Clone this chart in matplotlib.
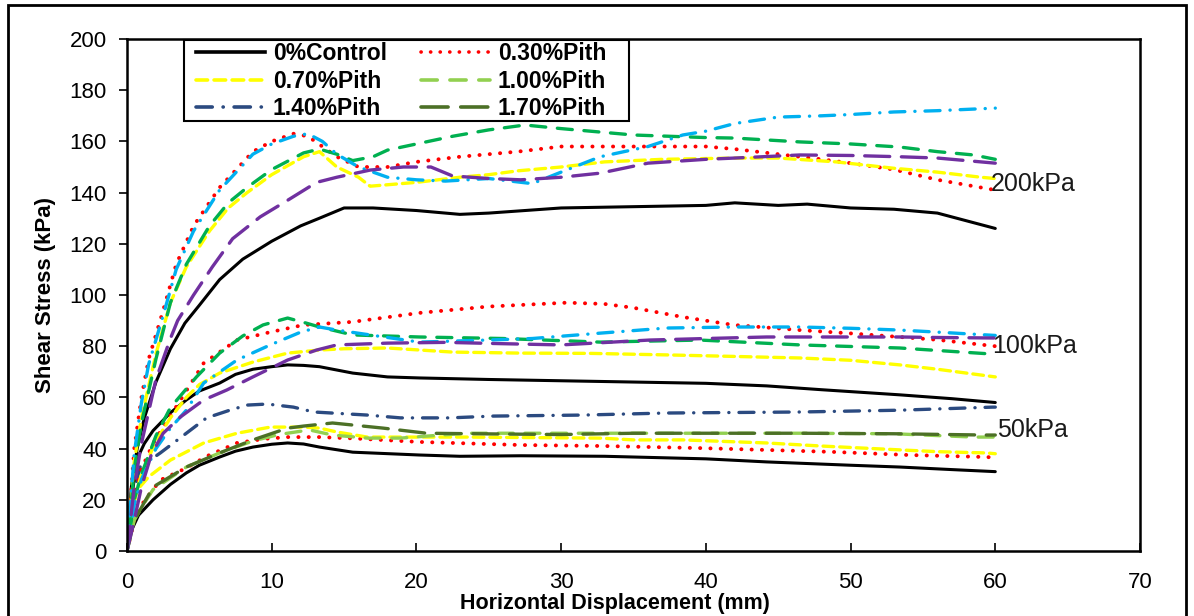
import matplotlib
matplotlib.use("Agg")
import matplotlib.pyplot as plt
from matplotlib.lines import Line2D
from matplotlib.patches import Rectangle

plt.rcParams['font.family'] = ['Liberation Sans', 'DejaVu Sans']

# ---------------- 200 kPa normal stress ----------------
x_ctrl_200 = [0, 0.3, 0.7, 1.2, 2, 3, 4, 5, 6.4, 8, 10, 12, 13.3, 15, 17, 20, 23, 25, 30, 35, 40, 42, 45, 47, 50, 53, 56, 58, 60]
y_ctrl_200 = [0, 25, 40, 52, 66, 79, 89, 96, 106, 114, 121, 127, 130, 134, 134, 133, 131.5, 132, 134, 134.5, 135, 136, 135, 135.5, 134, 133.5, 132, 129, 126]

x_p030_200 = [0, 0.5, 1, 1.5, 2.5, 3.4, 4.6, 6.4, 8.7, 10, 11.5, 12.5, 13.5, 14.5, 16, 18, 20, 23, 27, 30, 35, 40, 42, 45, 48, 50, 53, 56, 58, 60]
y_p030_200 = [0, 40, 60, 75, 94, 112, 127, 142, 156, 160, 163, 162, 158, 154, 150, 150, 152, 154, 156, 158, 158, 158, 157, 155, 153, 151.5, 149, 145, 143, 141]

x_p070_200 = [0, 0.5, 1, 2, 3, 4.1, 5.7, 7, 8.3, 10, 12.2, 13.3, 14.5, 16, 16.8, 20, 23, 25, 27, 30, 33, 37, 42, 45, 49, 53, 56, 59, 60]
y_p070_200 = [0, 35, 52, 77, 97, 111, 125, 134, 140, 147, 154, 156, 150, 146, 142.5, 144, 146, 147, 148.5, 150, 152, 153, 153.5, 153.5, 152, 149.5, 148, 146, 145.5]

x_p100_200 = [0, 0.5, 1, 2, 3, 4.1, 5.7, 7, 8.3, 10, 12.2, 13.3, 14.5, 15.6, 17, 18, 20, 22.5, 25, 27.5, 30, 35, 40, 42, 46.5, 50, 53.4, 56, 58.5, 60]
y_p100_200 = [0, 32, 50, 75, 97, 112, 127, 136, 142, 149, 155.5, 157, 155, 152.5, 154, 156.6, 159, 162, 164.5, 166.4, 165, 162.5, 161.5, 161.3, 159.8, 159, 157.8, 156, 154.7, 153]

x_p140_200 = [0, 0.5, 1, 1.5, 2.5, 3.4, 4.6, 6.4, 8.7, 10, 11.5, 12.5, 13.5, 14.5, 16, 18, 20, 22, 25, 28, 30, 32.7, 36, 38.4, 40, 42, 45, 48, 50, 53, 56, 60]
y_p140_200 = [0, 38, 58, 73, 92, 110, 125, 141, 155, 159, 162, 163, 160, 155, 150, 146, 145, 144.5, 145.5, 143.5, 148, 154, 158, 162.5, 164, 167, 169.5, 170, 170.5, 171.5, 172, 173]

x_p170_200 = [0, 0.5, 1, 2, 3, 3.5, 4.6, 5.9, 7.3, 9.2, 11.1, 13.1, 14.5, 16.8, 19.1, 21, 22.5, 25, 27.2, 30, 32.7, 36, 40, 42, 46.5, 50, 53.4, 56, 59, 60]
y_p170_200 = [0, 25, 42, 67, 83, 90, 100, 111, 122, 130.5, 137, 144, 146, 148.8, 150, 150, 146.5, 145.5, 145, 146, 147.6, 151.5, 153, 153.5, 154.7, 154.5, 154, 153.5, 152, 151.5]

# ---------------- 100 kPa normal stress ----------------
x_ctrl_100 = [0, 0.3, 0.7, 1.2, 1.8, 3, 4.1, 5, 6.4, 7.5, 8.7, 10, 11.1, 12.2, 13.3, 15.6, 18, 20.2, 25, 30, 35, 40, 44.2, 48, 53.4, 57, 60]
y_ctrl_100 = [0, 20, 36, 42, 47, 54, 59, 62.5, 65.6, 69, 71, 72, 72.7, 72.5, 72, 69.5, 68, 67.6, 67, 66.5, 66, 65.5, 64.5, 63, 61, 59.5, 58]

x_p030_100 = [0, 0.5, 1, 1.8, 2.5, 3.7, 5.3, 7.6, 9.9, 12.2, 15.6, 20.2, 25, 30.4, 33, 35, 38.4, 41.9, 46.5, 50, 53.4, 56, 59.2, 60]
y_p030_100 = [0, 22, 32, 42, 48.4, 59, 73.4, 82.4, 85.5, 88.3, 89.5, 93, 95.5, 97, 96.5, 95, 91.4, 88.3, 86.3, 85, 83.6, 82.5, 80.5, 80]

x_p070_100 = [0, 0.5, 1, 2, 3, 4.1, 5, 6.4, 8.7, 11.1, 13.3, 15, 18, 22.5, 27.2, 32, 37.3, 42, 46.5, 50, 53.4, 56, 60]
y_p070_100 = [0, 20, 30, 43, 52, 60, 65, 69.5, 73.8, 77.3, 78.5, 79, 79.3, 77.7, 77.3, 77.2, 76.6, 76, 75.4, 74.5, 72.7, 71, 68]

x_p100_100 = [0, 0.5, 1, 2, 3, 4.8, 6.4, 8, 9.4, 11.1, 12.4, 13.3, 15.6, 20.2, 26, 32.7, 39.6, 46.5, 53.4, 59.6, 60]
y_p100_100 = [0, 20, 30, 45, 56, 68, 77.3, 84, 88.3, 91, 89, 87.5, 84.4, 83.6, 83, 81.6, 82.4, 80.5, 79.3, 77, 77]

x_p140_100 = [0, 0.5, 1, 2, 3, 4.1, 5.3, 7.6, 9.9, 12, 13.3, 14.5, 16.8, 20.2, 24.9, 28, 32.7, 37.3, 42, 46.5, 50, 53.4, 56, 60]
y_p140_100 = [0, 18, 28, 40, 48, 55, 65.6, 74.6, 80.5, 85.5, 87.5, 86.3, 84.4, 81.6, 82.4, 83, 85.1, 87.1, 87.5, 87.5, 87, 86.3, 85.5, 84.2]

x_p170_100 = [0, 0.5, 1, 1.7, 2.5, 3.7, 5.3, 6.9, 8.7, 11.1, 13.1, 14.5, 18, 22, 25.8, 30, 36.1, 40, 44.2, 50, 53.4, 56, 60]
y_p170_100 = [0, 12, 25, 38, 46, 52.4, 59, 62.9, 68, 74.6, 78.5, 80.5, 81.2, 81.5, 81, 80.5, 82.4, 83, 83.6, 83.6, 83.6, 83.4, 83.2]

# ---------------- 50 kPa normal stress ----------------
x_ctrl_50 = [0, 0.3, 0.8, 1.8, 3, 4.1, 5, 6.4, 7.5, 8.7, 10, 11.1, 12.2, 13.3, 15.6, 20.2, 23, 27.2, 33, 40, 44.2, 50, 53.4, 57, 60]
y_ctrl_50 = [0, 8, 14, 20, 26, 30.5, 33.5, 36.7, 39, 40.6, 41.7, 42.2, 41.8, 40.6, 38.6, 37.5, 37, 37.2, 37, 36, 34.8, 33.5, 32.8, 31.8, 31]

x_p030_50 = [0, 0.5, 1, 2.3, 4.1, 5.5, 7.6, 9.5, 11.1, 13.3, 15.6, 20.2, 27.2, 33, 39.6, 44, 48.8, 54, 59.4, 60]
y_p030_50 = [0, 12, 18, 27.7, 32.4, 37, 42.2, 43.8, 44.5, 44.5, 44, 42.6, 41.4, 41, 40.2, 39.5, 38.7, 37.5, 36.7, 36.5]

x_p070_50 = [0, 0.3, 0.7, 1.5, 3, 5.3, 7.6, 9.9, 12.2, 13.3, 14.5, 16.6, 20, 23.5, 28, 32.7, 35, 38.4, 44.2, 48, 53.4, 56, 59.4, 60]
y_p070_50 = [0, 14, 23.8, 29, 35.5, 42.2, 46, 48.4, 48.4, 48, 46.5, 44.5, 44.5, 44.5, 44.3, 44.1, 43.4, 43.4, 42.2, 41, 39.5, 38.8, 38.3, 38]

x_p100_50 = [0, 0.5, 1, 1.8, 4.1, 6.4, 8.7, 10.5, 12.6, 14.2, 16.6, 18.9, 21, 23.5, 28, 32.7, 40, 46.5, 53, 58.5, 60]
y_p100_50 = [0, 12, 17, 24, 32.8, 38.3, 43, 45.5, 47.3, 45.3, 44.1, 44.1, 45, 46, 46, 46, 46, 46, 45.8, 44.5, 44.5]

x_p140_50 = [0, 0.3, 0.9, 2.3, 4.1, 5.5, 7.1, 8.3, 9.7, 11.5, 12.9, 16.6, 18.9, 22.3, 25.3, 31.5, 37.3, 46.5, 53.4, 59.8, 60]
y_p140_50 = [0, 18, 32.8, 38.3, 46, 52, 55, 57, 57.4, 56.2, 54.3, 53.1, 52, 52, 52.7, 53.1, 53.9, 54.3, 55, 56.2, 56.2]

x_p170_50 = [0, 0.5, 1, 1.8, 4.1, 6.4, 8.7, 11.1, 12.2, 14.2, 17.7, 20.7, 25.8, 30, 35, 39, 46.5, 53, 59.2, 60]
y_p170_50 = [0, 12, 17, 25, 32.8, 38.3, 43.4, 48, 48.8, 50, 48, 46, 45.7, 45.5, 46, 46, 46, 45.8, 45.3, 45.3]

series_labels = ['0%Control', '0.30%Pith', '0.70%Pith', '1.00%Pith', '1.40%Pith', '1.70%Pith']
x_ticks = [0, 10, 20, 30, 40, 50, 60, 70]
y_ticks = [0, 20, 40, 60, 80, 100, 120, 140, 160, 180, 200]
stress_labels = ['200kPa', '100kPa', '50kPa']
stress_label_x = [59.7, 59.8, 60.1]
stress_label_y = [143.5, 80, 47.3]

# line styles
DOT = (0, (0.05, 2.6))
SHORT = (0, (3.2, 1.8))
MED = (0, (4.5, 3.5))
DASHDOT = (0, (4.5, 3.0, 0.05, 3.0))
LONG = (0, (7.5, 3.5))

W, H = 1194, 616
fig = plt.figure(figsize=(W / 100, H / 100), dpi=100)
ax = fig.add_axes([127 / W, 1 - 551 / H, (1140 - 127) / W, (551 - 39) / H])

lw = 2.4

def draw(x, y, color, ls, width=lw):
    ax.plot(x, y, color=color, linestyle=ls, linewidth=width,
            dash_capstyle='round', solid_capstyle='round')

# 50 kPa (legend colours)
draw(x_ctrl_50, y_ctrl_50, 'black', '-', 2.2)
draw(x_p030_50, y_p030_50, '#FF0000', DOT, 2.8)
draw(x_p070_50, y_p070_50, '#FFFF00', SHORT)
draw(x_p100_50, y_p100_50, '#92D050', MED)
draw(x_p140_50, y_p140_50, '#2B4A80', DASHDOT)
draw(x_p170_50, y_p170_50, '#4C7026', LONG)

# 100 kPa
draw(x_ctrl_100, y_ctrl_100, 'black', '-', 2.2)
draw(x_p030_100, y_p030_100, '#FF0000', DOT, 2.8)
draw(x_p070_100, y_p070_100, '#FFFF00', SHORT)
draw(x_p100_100, y_p100_100, '#00B050', MED)
draw(x_p140_100, y_p140_100, '#00B0F0', DASHDOT)
draw(x_p170_100, y_p170_100, '#7030A0', LONG)

# 200 kPa
draw(x_ctrl_200, y_ctrl_200, 'black', '-', 2.2)
draw(x_p030_200, y_p030_200, '#FF0000', DOT, 2.8)
draw(x_p070_200, y_p070_200, '#FFFF00', SHORT)
draw(x_p100_200, y_p100_200, '#00B050', MED)
draw(x_p140_200, y_p140_200, '#00B0F0', DASHDOT)
draw(x_p170_200, y_p170_200, '#7030A0', LONG)

ax.set_xlim(0, 70)
ax.set_ylim(0, 200)
ax.set_xticks(x_ticks)
ax.set_yticks(y_ticks)
ax.tick_params(axis='y', direction='out', length=5.5, width=1.2, labelsize=16, pad=9)
ax.tick_params(axis='x', direction='in', length=5.5, width=1.2, labelsize=16, pad=15)
for s in ax.spines.values():
    s.set_linewidth(1.8)

ax.set_xlabel('Horizontal Displacement (mm)', fontsize=15.5, fontweight='bold')
ax.xaxis.set_label_coords((615 - 127) / (1140 - 127), -(604 - 551) / (551 - 39))
ax.xaxis.label.set_va('center')
ax.set_ylabel('Shear Stress (kPa)', fontsize=16, fontweight='bold')
ax.yaxis.set_label_coords(-(127 - 46) / (1140 - 127), 0.5)
ax.yaxis.label.set_va('center')

for txt, xv, yv in zip(stress_labels, stress_label_x, stress_label_y):
    ax.text(xv, yv, txt, fontsize=18, color='#1a1a1a', va='center', ha='left')

# legend entries
h = [
    Line2D([], [], color='black', lw=2.6, ls='-'),
    Line2D([], [], color='#FFFF00', lw=2.6, ls=SHORT, dash_capstyle='round'),
    Line2D([], [], color='#2B4A80', lw=2.6, ls=DASHDOT, dash_capstyle='round'),
    Line2D([], [], color='#FF0000', lw=2.6, ls=DOT, dash_capstyle='round'),
    Line2D([], [], color='#92D050', lw=2.6, ls=MED, dash_capstyle='round'),
    Line2D([], [], color='#4C7026', lw=2.6, ls=LONG, dash_capstyle='round'),
]
lab = [series_labels[0], series_labels[2], series_labels[4],
       series_labels[1], series_labels[3], series_labels[5]]
leg = fig.legend(h, lab, ncol=2, loc='upper left',
                 bbox_to_anchor=(196 / W, 1 - 42 / H),
                 frameon=False,
                 prop={'weight': 'bold', 'size': 16.5},
                 handlelength=3.0, handletextpad=0.35, columnspacing=1.5,
                 labelspacing=0.2, borderpad=0.0, borderaxespad=0)

# legend frame
fig.patches.append(Rectangle((184 / W, 1 - 121 / H), (629 - 184) / W, (121 - 40) / H,
                             transform=fig.transFigure, fill=True, facecolor='white',
                             edgecolor='black', linewidth=1.5, zorder=4))
leg.set_zorder(5)

# outer frame around the figure
fig.patches.append(Rectangle((8 / W, -0.02), 1178 / W, 1 - 5 / H + 0.02,
                             transform=fig.transFigure, fill=False,
                             edgecolor='black', linewidth=2))

fig.savefig('out.png', dpi=100)
